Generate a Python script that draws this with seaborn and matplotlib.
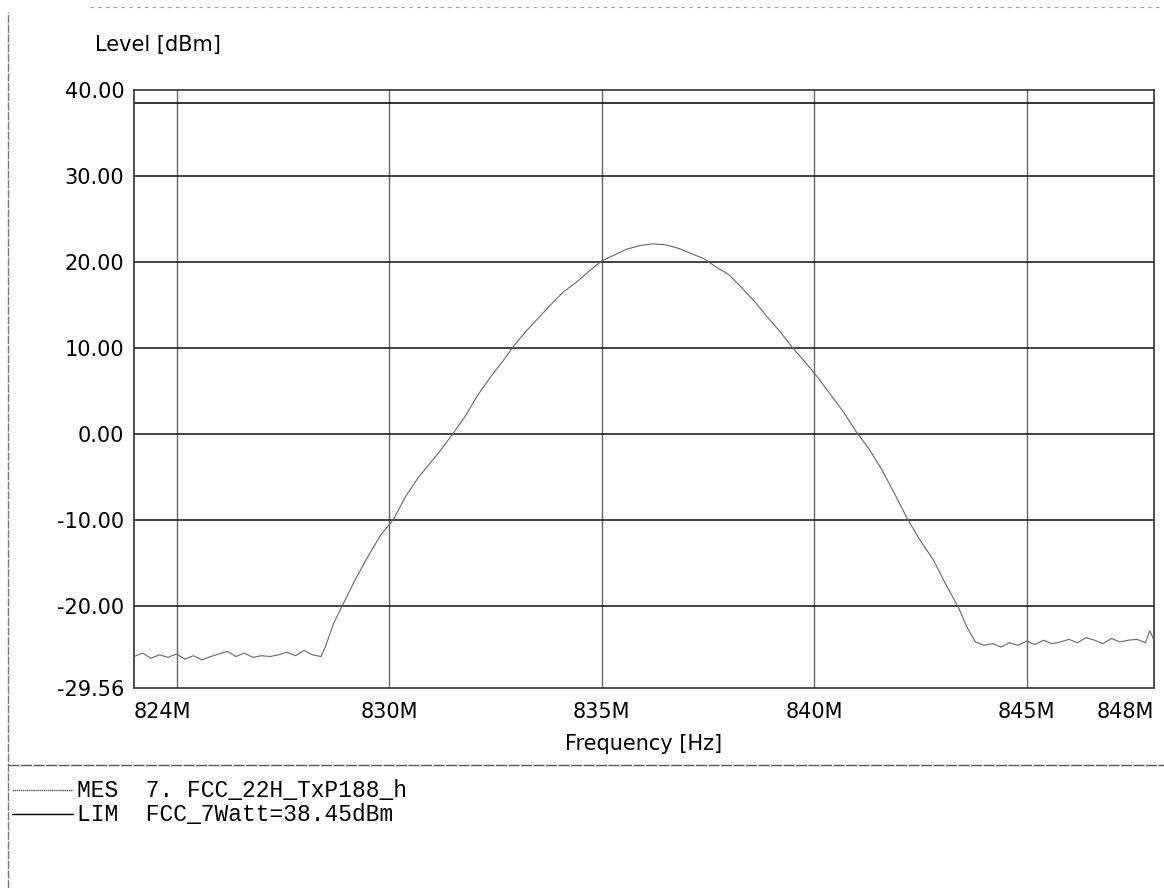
import numpy as np
import pandas as pd
import matplotlib
matplotlib.use("Agg")
import matplotlib.pyplot as plt
from matplotlib.lines import Line2D
import seaborn as sns

# ---- data ----
freq_mhz = [824.0, 824.2, 824.4, 824.6, 824.8, 825.0, 825.2, 825.4, 825.6, 825.8,
            826.0, 826.2, 826.4, 826.6, 826.8, 827.0, 827.2, 827.4, 827.6, 827.8,
            828.0, 828.2, 828.4,
            828.5, 828.7, 828.9, 829.2, 829.5, 829.8, 830.1, 830.4, 830.7, 831.0,
            831.2, 831.5, 831.8, 832.1, 832.4, 832.7, 832.9, 833.2, 833.5, 833.8,
            834.1, 834.4, 834.7, 835.0, 835.3, 835.6, 835.9, 836.2, 836.5, 836.8,
            837.1, 837.4, 837.7, 838.0, 838.3, 838.6, 838.9, 839.2, 839.5, 839.8,
            840.1, 840.4, 840.7, 841.0, 841.3, 841.6, 841.9, 842.2, 842.5, 842.8,
            843.1, 843.4, 843.6, 843.8, 844.0,
            844.2, 844.4, 844.6, 844.8, 845.0, 845.2, 845.4, 845.6, 845.8, 846.0,
            846.2, 846.4, 846.6, 846.8, 847.0, 847.2, 847.4, 847.6, 847.8, 847.9, 848.0]
level_dbm = [-25.9, -25.5, -26.1, -25.7, -26.0, -25.6, -26.2, -25.8, -26.3, -25.9,
             -25.6, -25.3, -25.9, -25.5, -26.0, -25.8, -25.9, -25.7, -25.4, -25.8,
             -25.2, -25.7, -25.9,
             -24.8, -22.0, -20.0, -17.0, -14.3, -11.8, -10.0, -7.2, -5.0, -3.2,
             -2.0, 0.0, 2.1, 4.6, 6.7, 8.6, 10.0, 11.8, 13.4, 15.0,
             16.5, 17.6, 18.9, 20.1, 20.8, 21.5, 21.9, 22.1, 22.0, 21.6,
             21.0, 20.4, 19.4, 18.5, 17.0, 15.4, 13.6, 11.9, 10.0, 8.3,
             6.5, 4.5, 2.5, 0.2, -1.8, -4.2, -7.0, -9.9, -12.4, -14.6,
             -17.5, -20.2, -22.5, -24.2, -24.6,
             -24.4, -24.8, -24.3, -24.6, -24.1, -24.5, -24.0, -24.4, -24.2, -23.9,
             -24.3, -23.7, -24.0, -24.4, -23.8, -24.2, -24.0, -23.9, -24.3, -22.9, -24.0]

limit_dbm = 38.45
y_ticks = [40.0, 30.0, 20.0, 10.0, 0.0, -10.0, -20.0, -29.56]
x_ticks = [824, 830, 835, 840, 845, 848]
x_tick_labels = ["824M", "830M", "835M", "840M", "845M", "848M"]
x_grid = [825, 830, 835, 840, 845]
y_grid = [30, 20, 10, 0, -10, -20]
legend_rows = [("MES  7. FCC_22H_TxP188_h", "#555555"),
               ("LIM  FCC_7Watt=38.45dBm", "#000000")]

df = pd.DataFrame({"freq": freq_mhz, "level": level_dbm})

sns.set_theme(style="white")
plt.rcParams["font.family"] = ["DejaVu Sans"]
plt.rcParams["text.color"] = "#000000"
plt.rcParams["axes.labelcolor"] = "#000000"

W, H = 1164, 888
fig = plt.figure(figsize=(W / 100, H / 100), dpi=100)
ax = fig.add_axes([134 / W, 1 - 688 / H, (1154 - 134) / W, (688 - 90) / H])

ax.set_xlim(824, 848)
ax.set_ylim(-29.56, 40)

for g in x_grid:
    ax.axvline(g, color="#666666", lw=1.0, zorder=1)
for g in y_grid:
    ax.axhline(g, color="#111111", lw=1.1, zorder=1)
ax.axhline(limit_dbm, color="#111111", lw=1.2, zorder=2)

sns.lineplot(data=df, x="freq", y="level", ax=ax, color="#666666", lw=0.8, zorder=3)

for s in ax.spines.values():
    s.set_color("#333333")
    s.set_linewidth(1.2)

ax.set_yticks(y_ticks)
ax.set_yticklabels([f"{v:.2f}" for v in y_ticks])
ax.set_xticks(x_ticks)
ax.set_xticklabels(x_tick_labels)
ax.tick_params(axis="both", length=0, labelsize=15, colors="#000000")
ax.tick_params(axis="y", pad=7)
ax.tick_params(axis="x", pad=10)
xl = ax.get_xticklabels()
xl[0].set_horizontalalignment("left")
xl[-1].set_horizontalalignment("right")

ax.set_xlabel("Frequency [Hz]", fontsize=15, labelpad=9, color="#000000")
ax.set_ylabel("")

fig.text(95 / W, 1 - 45 / H, "Level [dBm]", fontsize=15, ha="left", va="center",
         color="#000000")

# page frame lines
fig.add_artist(Line2D([8 / W, 8 / W], [0, 1 - 12 / H], transform=fig.transFigure,
                      color="#777777", lw=1.0, ls=(0, (6, 1))))
fig.add_artist(Line2D([8 / W, 1], [1 - 765 / H, 1 - 765 / H], transform=fig.transFigure,
                      color="#555555", lw=1.0, ls=(0, (8, 1))))
fig.add_artist(Line2D([90 / W, 1160 / W], [1 - 7 / H, 1 - 7 / H], transform=fig.transFigure,
                      color="#999999", lw=0.8, ls=(0, (3, 4))))

# legend block
for i, (txt, col) in enumerate(legend_rows):
    yy = 1 - (790 + 24 * i) / H
    fig.add_artist(Line2D([12 / W, 73 / W], [yy, yy], transform=fig.transFigure,
                          color=col, lw=1.0, ls="-" if i else (0, (1, 0.5))))
    fig.text(77 / W, yy, txt, fontsize=16.5, family=["Liberation Mono", "DejaVu Sans Mono"],
             ha="left", va="center", color="#000000")

fig.savefig("out.png", dpi=100)
